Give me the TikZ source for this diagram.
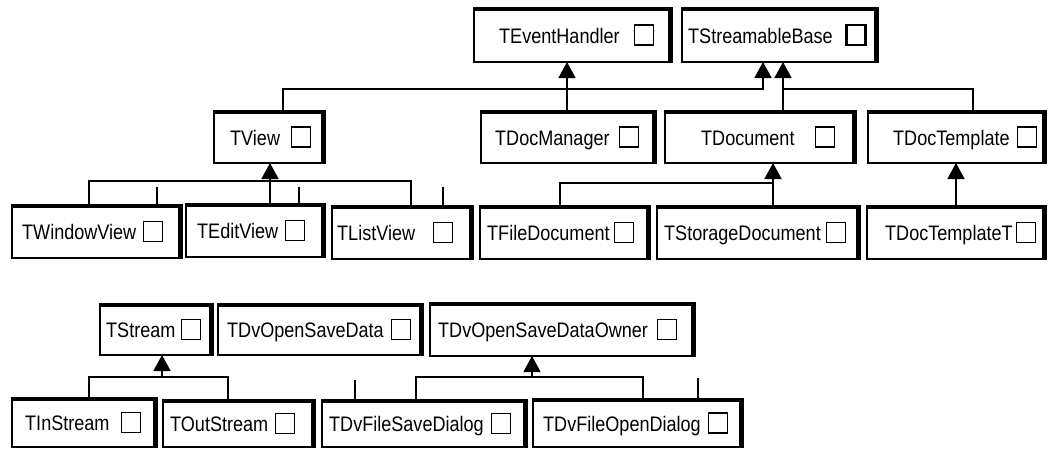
\documentclass[tikz,border=0pt]{standalone}
\usepackage{fontspec}
\setmainfont{Liberation Sans}
\newfontfamily\clsfont[FakeStretch=0.86]{Liberation Sans}
\usetikzlibrary{arrows.meta}
\tikzset{
  clsbox/.style={draw=black, line width=1.1pt, fill=white, inner sep=0pt, outer sep=0pt},
  topedge/.style={line width=3pt},
  rightedge/.style={line width=4.5pt},
  lbl/.style={font=\clsfont\fontsize{21}{24}\selectfont, inner sep=0pt, anchor=base west},
  sq/.style={draw, line width=1.2pt, minimum width=19pt, minimum height=20pt, inner sep=0pt},
  sqbold/.style={sq, line width=2.8pt},
  link/.style={line width=1.7pt},
  inh/.style={link, -{Triangle[width=17pt,length=16pt]}},
}
% #1 name, #2 left, #3 top, #4 right, #5 bottom, #6 text x, #7 square x, #8 label, #9 square style
\newcommand\clsnode[9]{%
  \node[clsbox, minimum width={#4-#2}, minimum height={#5-#3}] (#1) at ({(#2+#4)/2},{(#3+#5)/2}) {};
  \draw[topedge] ([yshift=-1pt]#1.north west) -- ([yshift=-1pt]#1.north east);
  \draw[rightedge] ([xshift=-1.7pt]#1.north east) -- ([xshift=-1.7pt]#1.south east);
  \node[lbl] (#1-label) at (#6,{(#3+#5)/2+8}) {#8};
  \node[#9] (#1-square) at ({#7+10},{(#3+#5)/2}) {};
}
\begin{document}
\begin{tikzpicture}[x=1pt,y=-1pt]
\useasboundingbox (0,0) rectangle (1051,450);
\fill[white] (0,0) rectangle (1051,450);

\clsnode{TEventHandler}{474}{8}{672}{62}{499}{634}{TEventHandler}{sq}
\clsnode{TStreamableBase}{682}{8}{878}{62}{688}{846}{TStreamableBase}{sqbold}

\clsnode{TView}{214}{111}{325}{163}{230}{291}{TView}{sq}
\clsnode{TDocManager}{481}{111}{656}{163}{495}{619}{TDocManager}{sq}
\clsnode{TDocument}{665}{111}{856}{163}{701}{815}{TDocument}{sq}
\clsnode{TDocTemplate}{868}{111}{1046}{163}{893}{1017}{TDocTemplate}{sq}

\clsnode{TWindowView}{12}{205}{182}{258}{22}{143}{TWindowView}{sq}
\clsnode{TEditView}{186}{204}{325}{257}{197}{285}{TEditView}{sq}
\clsnode{TListView}{332}{206}{473}{259}{337}{433}{TListView}{sq}
\clsnode{TFileDocument}{480}{206}{650}{259}{487}{614}{TFileDocument}{sq}
\clsnode{TStorageDocument}{657}{206}{860}{259}{664}{826}{TStorageDocument}{sq}
\clsnode{TDocTemplateT}{867}{206}{1046}{259}{885}{1016}{TDocTemplateT}{sq}

\clsnode{TStream}{100}{304}{213}{355}{106}{181}{TStream}{sq}
\clsnode{TDvOpenSaveData}{218}{304}{423}{355}{227}{391}{TDvOpenSaveData}{sq}
\clsnode{TDvOpenSaveDataOwner}{430}{303}{695}{356}{438}{657}{TDvOpenSaveDataOwner}{sq}

\clsnode{TInStream}{12}{398}{157}{447}{25}{121}{TInStream}{sq}
\clsnode{TOutStream}{163}{400}{315}{447}{170}{275}{TOutStream}{sq}
\clsnode{TDvFileSaveDialog}{322}{400}{527}{447}{329}{491}{TDvFileSaveDialog}{sq}
\clsnode{TDvFileOpenDialog}{533}{399}{743}{447}{543}{708}{TDvFileOpenDialog}{sq}

% top level
\draw[inh] (TDocManager.north -| 567,0) -- (TEventHandler.south -| 567,0);
\draw[inh] (TView.north -| 283,0) |- (763,89) -- (TStreamableBase.south -| 763,0);
\draw[inh] (TDocument.north -| 783,0) -- (TStreamableBase.south -| 783,0);
\draw[link] (TDocTemplate.north -| 973,0) |- (783,89);

% TView children
\draw[inh] (TEditView.north -| 270,0) -- (TView.south -| 270,0);
\draw[link] (TWindowView.north -| 89,0) |- (411,181) -- (TListView.north -| 411,0);
\draw[link] (TWindowView.north -| 157,0) -- ++(0,-18);
\draw[link] (TEditView.north -| 299,0) -- ++(0,-17);
\draw[link] (TListView.north -| 443,0) -- ++(0,-19);

% TDocument children
\draw[inh] (TStorageDocument.north -| 773,0) -- (TDocument.south -| 773,0);
\draw[link] (TFileDocument.north -| 560,0) |- (773,183);
\draw[inh] (TDocTemplateT.north -| 956,0) -- (TDocTemplate.south -| 956,0);

% streams
\coordinate (jS) at (162,377);
\draw[link] (TInStream.north -| 89,0) |- (228,377) -- (TOutStream.north -| 228,0);
\draw[inh] (jS) -- (TStream.south -| jS);

\coordinate (jD) at (532,377);
\draw[link] (TDvFileSaveDialog.north -| 416,0) |- (643,377) -- (TDvFileOpenDialog.north -| 643,0);
\draw[inh] (jD) -- (TDvOpenSaveDataOwner.south -| jD);
\draw[link] (TDvFileSaveDialog.north -| 355,0) -- ++(0,-20);
\draw[link] (TDvFileOpenDialog.north -| 698,0) -- ++(0,-21);
\end{tikzpicture}
\end{document}
